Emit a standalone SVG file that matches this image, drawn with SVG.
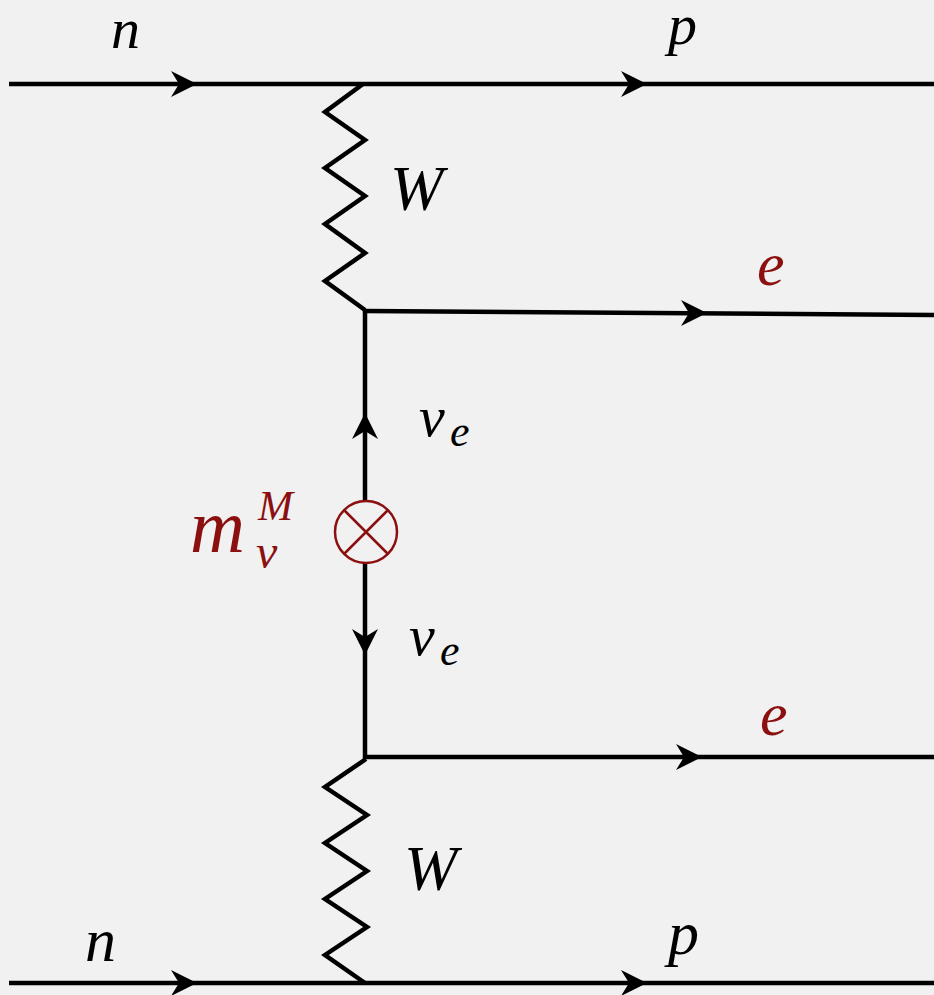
<svg xmlns="http://www.w3.org/2000/svg" xmlns:xlink="http://www.w3.org/1999/xlink" width="934" height="995" viewBox="0 0 934 995">
<style>
.ln{fill:none;stroke:#000;stroke-width:4.5;stroke-linecap:butt}
.zz{fill:none;stroke:#000;stroke-width:4.5;stroke-linejoin:miter}
.ar{fill:#000}
.t{font-family:"Liberation Serif","DejaVu Serif",serif;font-style:italic;fill:#000}
.r{fill:#8b0f0f}
.ins{fill:none;stroke:#8b0f0f;stroke-width:2.5}
</style>
<defs>
<path id="arr" d="M0,0 L-26,-13 L-18,0 L-26,13 Z"/>
</defs>
<rect width="934" height="995" fill="#f1f1f1"/>
<g id="connectors">
<path class="ln" d="M9,84 H934"/>
<path class="ln" d="M9,983 H934"/>
<path class="ln" d="M365,311 L934,315"/>
<path class="ln" d="M365,757 H934"/>
<path class="ln" d="M365,309 V501"/>
<path class="ln" d="M365,563 V759"/>
<path class="zz" d="M363,84 L325,112 L365,140 L325,168 L365,196 L325,224 L365,253 L325,281 L365,310"/>
<path class="zz" d="M366,759 L325,787 L367,815 L325,843 L367,871 L325,899 L367,927 L325,955 L365,983"/>
<use class="ar" xlink:href="#arr" transform="translate(197,84)"/>
<use class="ar" xlink:href="#arr" transform="translate(647,84)"/>
<use class="ar" xlink:href="#arr" transform="translate(707,313)"/>
<use class="ar" xlink:href="#arr" transform="translate(702,757)"/>
<use class="ar" xlink:href="#arr" transform="translate(197,983)"/>
<use class="ar" xlink:href="#arr" transform="translate(647,983)"/>
<use class="ar" xlink:href="#arr" transform="translate(365,413) rotate(-90)"/>
<use class="ar" xlink:href="#arr" transform="translate(365,655) rotate(90)"/>
</g>
<g id="mass-insertion">
<circle class="ins" cx="366" cy="532" r="31"/>
<path class="ins" d="M344,510 L388,554 M388,510 L344,554"/>
<text class="t r" x="190" y="552" font-size="76">m</text>
<text class="t r" x="258" y="520" font-size="42">M</text>
<text class="t r" x="256" y="568" font-size="48">ν</text>
</g>
<g id="n-top"><text class="t" x="111" y="48" font-size="58">n</text></g>
<g id="p-top"><text class="t" x="668" y="44" font-size="58">p</text></g>
<g id="W-top"><text class="t" x="390" y="210" font-size="64">W</text></g>
<g id="e-top"><text class="t r" x="757" y="285" font-size="62">e</text></g>
<g id="nu-top"><text class="t" x="419" y="436" font-size="58">ν</text><text class="t" x="450" y="446" font-size="44">e</text></g>
<g id="nu-bottom"><text class="t" x="409" y="655" font-size="58">ν</text><text class="t" x="440" y="665" font-size="44">e</text></g>
<g id="e-bottom"><text class="t r" x="760" y="735" font-size="62">e</text></g>
<g id="W-bottom"><text class="t" x="404" y="890" font-size="64">W</text></g>
<g id="n-bottom"><text class="t" x="85" y="961" font-size="62">n</text></g>
<g id="p-bottom"><text class="t" x="668" y="954" font-size="62">p</text></g>
</svg>
